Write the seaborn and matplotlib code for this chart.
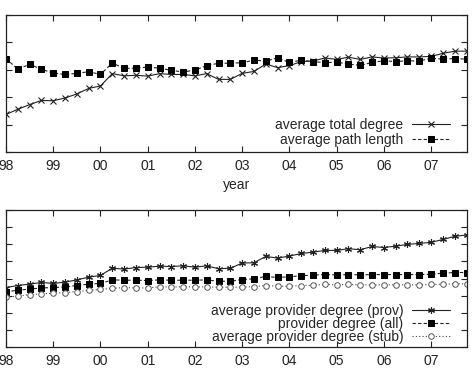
import numpy as np
import pandas as pd
import seaborn as sns
import matplotlib.pyplot as plt

# quarterly samples, 1998 Q1 .. 2007 Q4 (x in years since 1998)
quarters = np.arange(40) * 0.25
year_ticks = np.arange(10)
year_labels = ['98', '99', '00', '01', '02', '03', '04', '05', '06', '07']

# top panel (y tick labels are cropped in the reference, values in tick units)
total_degree = [1.37, 1.56, 1.73, 1.88, 1.87, 1.97, 2.12, 2.32, 2.41, 2.86,
                2.78, 2.80, 2.77, 2.86, 2.83, 2.83, 2.78, 2.86, 2.65, 2.65,
                2.87, 2.94, 3.21, 3.08, 3.15, 3.30, 3.32, 3.43, 3.38, 3.46,
                3.38, 3.47, 3.43, 3.44, 3.47, 3.47, 3.49, 3.60, 3.68, 3.68]
path_length = [3.41, 3.02, 3.20, 3.02, 2.88, 2.83, 2.87, 2.93, 2.83, 3.25,
               3.05, 3.06, 3.10, 3.06, 2.98, 2.92, 2.99, 3.15, 3.24, 3.24,
               3.26, 3.35, 3.32, 3.43, 3.27, 3.35, 3.30, 3.26, 3.28, 3.21,
               3.16, 3.27, 3.33, 3.30, 3.33, 3.32, 3.42, 3.39, 3.41, 3.39]

# bottom panel
prov_degree = [3.47, 3.59, 3.67, 3.77, 3.71, 3.79, 3.92, 4.08, 4.18, 4.60,
               4.55, 4.64, 4.66, 4.72, 4.70, 4.74, 4.66, 4.74, 4.57, 4.60,
               4.90, 4.92, 5.29, 5.19, 5.31, 5.46, 5.54, 5.64, 5.64, 5.74,
               5.68, 5.87, 5.81, 5.89, 5.99, 6.05, 6.11, 6.28, 6.46, 6.54]
all_degree = [3.22, 3.32, 3.38, 3.45, 3.47, 3.51, 3.59, 3.67, 3.71, 3.92,
              3.90, 3.90, 3.88, 3.92, 3.90, 3.90, 3.90, 3.92, 3.84, 3.84,
              3.94, 3.98, 4.12, 4.06, 4.10, 4.16, 4.20, 4.23, 4.21, 4.23,
              4.21, 4.23, 4.23, 4.23, 4.23, 4.23, 4.25, 4.31, 4.35, 4.35]
stub_degree = [2.91, 2.97, 3.06, 3.10, 3.14, 3.18, 3.24, 3.30, 3.36, 3.43,
               3.47, 3.45, 3.45, 3.51, 3.51, 3.51, 3.51, 3.51, 3.49, 3.49,
               3.49, 3.53, 3.59, 3.55, 3.55, 3.59, 3.61, 3.65, 3.63, 3.65,
               3.63, 3.63, 3.63, 3.63, 3.63, 3.63, 3.65, 3.67, 3.69, 3.69]

sns.set_style('white')
plt.rcParams['font.family'] = ['Liberation Sans', 'DejaVu Sans']
fs = 10

fig = plt.figure(figsize=(4.72, 3.75), dpi=100)
ax1 = fig.add_axes([6 / 472, 1 - 152 / 375, 461 / 472, 137 / 375])
ax2 = fig.add_axes([6 / 472, 1 - 347 / 375, 461 / 472, 137 / 375])

lw = 0.8
sns.lineplot(x=quarters, y=total_degree, ax=ax1, color='#222222', lw=lw,
             marker='x', markersize=4.5, mew=0.8, mec='#222222',
             label='average total degree')
sns.lineplot(x=quarters, y=path_length, ax=ax1, color='#222222', lw=lw,
             linestyle=(0, (3, 2)), marker='s', markersize=3.8,
             mec='black', mfc='black', label='average path length')

sns.lineplot(x=quarters, y=prov_degree, ax=ax2, color='#222222', lw=lw,
             marker=(6, 2, 0), markersize=5, mew=0.8, mec='#222222',
             label='average provider degree (prov)')
sns.lineplot(x=quarters, y=all_degree, ax=ax2, color='#222222', lw=lw,
             linestyle=(0, (3, 2)), marker='s', markersize=3.8,
             mec='black', mfc='black', label='provider degree (all)')
sns.lineplot(x=quarters, y=stub_degree, ax=ax2, color='#444444', lw=lw,
             linestyle=(0, (1, 2)), marker='o', markersize=4, mew=0.7,
             mec='#555555', mfc='white', label='average provider degree (stub)')

for ax, ymax in [(ax1, 5), (ax2, 8)]:
    ax.set_xlim(0, 9.76)
    ax.set_ylim(0, ymax)
    ax.set_xticks(year_ticks)
    ax.set_xticklabels(year_labels)
    ax.set_yticks(range(ymax + 1))
    ax.tick_params(direction='in', length=4, width=0.8, top=True, right=True,
                   left=True, bottom=True, labelleft=False, pad=5,
                   labelsize=fs, colors='#222222')
    for s in ax.spines.values():
        s.set_linewidth(0.9)
        s.set_color('#222222')
    ax.set_ylabel('')

ax1.legend(loc='lower right', bbox_to_anchor=(0.963, 0.04), frameon=False,
           markerfirst=False, handlelength=2.7, handletextpad=0.65,
           labelspacing=0.05, borderaxespad=0, borderpad=0, fontsize=fs)
ax2.legend(loc='lower right', bbox_to_anchor=(0.963, 0.025), frameon=False,
           markerfirst=False, handlelength=2.7, handletextpad=0.65,
           labelspacing=-0.08, borderaxespad=0, borderpad=0, fontsize=fs)

ax1.set_xlabel('year', fontsize=fs, labelpad=4)

fig.savefig('out.png', dpi=100)
